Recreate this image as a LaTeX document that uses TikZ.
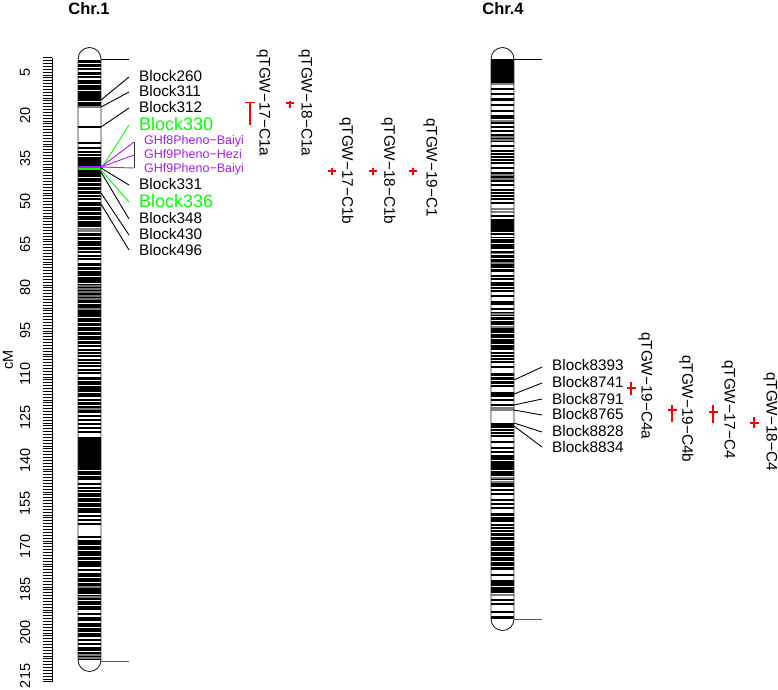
\documentclass[tikz,border=0pt]{standalone}
\usepackage{fontspec}
\setmainfont{Liberation Sans}
\definecolor{grn}{HTML}{00FF00}
\definecolor{prp}{HTML}{A020F0}
\definecolor{qred}{HTML}{FF0000}
\begin{document}
\begin{tikzpicture}[x=1pt,y=-1pt,
  lbl/.style={font=\fontsize{15.3}{18}\selectfont, inner sep=0pt, anchor=west, text depth=0pt},
  lblg/.style={font=\fontsize{18}{21}\selectfont, inner sep=0pt, anchor=west, text depth=0pt, text=grn},
  lblp/.style={font=\fontsize{12.5}{15}\selectfont, inner sep=0pt, anchor=west, text depth=0pt, text=prp},
  qlbl/.style={font=\fontsize{15.3}{18}\selectfont, inner sep=0pt, anchor=west, text depth=0pt, rotate=-90},
  axl/.style={font=\fontsize{14.5}{17}\selectfont, inner sep=0pt, rotate=90, text depth=0pt},
  ttl/.style={font=\fontsize{16.5}{19}\selectfont\bfseries, inner sep=0pt},
  conn/.style={line width=0.9pt},
  qtl/.style={draw=qred, line width=1.1pt},
  chrom/.style={draw=black!85, line width=0.9pt},
  bl/.style={black, line width=1.4pt},
  wl/.style={white, line width=0.9pt},
  gl/.style={black!50, line width=1.3pt},
]
\useasboundingbox (0,0) rectangle (778,689);

% ---------- axis ----------
\foreach \i in {0,...,217} \draw[line width=0.55pt] (43,{57.6+\i*2.876}) -- (52,{57.6+\i*2.876});
\draw[line width=0.6pt] (52,57.6) -- (52,{57.6+217*2.876});
\foreach \v in {5,20,...,215} \node[axl] (tk\v) at (25,{57.6+\v*2.876}) {\v};
\node[axl] (cm) at (8,360) {cM};

% ---------- titles ----------
\node[ttl] (t1) at (89,9) {Chr.1};
\node[ttl] (t4) at (503,9) {Chr.4};

% ---------- Chr.1 bands ----------
\begin{scope}
\clip (78,59) rectangle (101,660);
\fill[white] (78,59) rectangle (101,660);
\foreach \a/\b in {60/67, 72/78, 85/107, 157/167, 170/177, 183/200, 207/227, 233/253, 263/347, 377/397, 402/413, 437/480, 493/513, 540/567, 573/610, 623/637, 647/660}
  \fill[black] (78,\a) rectangle (101,\b);
\foreach \y in {286, 289, 292, 296, 299}
  \draw[black!55, line width=1.6pt] (78,\y) -- (101,\y);
\foreach \y in {63, 75, 90, 101, 186, 190, 194, 197, 211, 215, 220, 236, 240, 246, 250, 266, 270, 276, 283, 303, 317, 322, 326, 331, 335, 340, 344, 380, 385, 392, 405, 470, 475, 497, 502, 507, 545, 550, 556, 560, 577, 582, 594, 600, 605, 627, 632, 651}
  \draw[wl] (78,\y) -- (101,\y);
\foreach \y in {107, 229, 231, 309, 409, 587, 597, 655, 658}
  \draw[gl] (78,\y) -- (101,\y);
\foreach \y in {69, 81, 83, 127, 143, 148, 152, 155, 179, 181, 203, 205, 256, 259, 350, 353, 356, 360, 363, 366, 370, 373, 400, 416, 420, 424, 428, 432, 484, 488, 491, 516, 520, 524, 537, 570, 614, 618, 620, 640, 644}
  \draw[bl] (78,\y) -- (101,\y);
\draw[prp, line width=1.2pt] (78,167) -- (101,167);
\draw[grn, line width=1.2pt] (78,169) -- (101,169);
\end{scope}
\draw[chrom] (78,59) -- (78,660) .. controls (78,666.35) and (83.15,671.5) .. (89.5,671.5) .. controls (95.85,671.5) and (101,666.35) .. (101,660) -- (101,59) .. controls (101,52.65) and (95.85,47.5) .. (89.5,47.5) .. controls (83.15,47.5) and (78,52.65) .. (78,59) -- cycle;

% ---------- Chr.4 bands ----------
\begin{scope}
\clip (491,59) rectangle (514,619);
\fill[white] (491,59) rectangle (514,619);
\foreach \a/\b in {59/84, 115/124, 134/142, 172/182, 219/232, 237/249, 255/272, 282/292, 312/350, 373/387, 392/397, 423/428, 455/487, 513/522, 533/570, 580/593, 616/619}
  \fill[black] (491,\a) rectangle (514,\b);
\foreach \y in {119, 238, 243, 258, 262, 268, 286, 289, 316, 320, 325, 333, 338, 344, 376, 380, 384, 460, 470, 476, 480, 516, 536, 540, 546, 551, 556, 561, 566, 586}
  \draw[wl] (491,\y) -- (514,\y);
\foreach \y in {84, 121, 137, 140, 175, 179, 209, 212, 253, 263, 314, 327, 408, 410, 478, 482, 595}
  \draw[gl] (491,\y) -- (514,\y);
\foreach \y in {89, 94, 99, 100, 105, 111, 127, 131, 146, 151, 154, 157, 160, 163, 168, 185, 190, 193, 196, 199, 203, 216, 234, 252, 276, 279, 296, 302, 304, 309, 353, 356, 359, 362, 367, 400, 405, 430, 433, 436, 442, 448, 452, 490, 494, 500, 504, 508, 525, 528, 531, 575, 600, 604, 612}
  \draw[bl] (491,\y) -- (514,\y);
\end{scope}
\draw[chrom] (491,59) -- (491,619) .. controls (491,625.35) and (496.15,630.5) .. (502.5,630.5) .. controls (508.85,630.5) and (514,625.35) .. (514,619) -- (514,59) .. controls (514,52.65) and (508.85,47.5) .. (502.5,47.5) .. controls (496.15,47.5) and (491,52.65) .. (491,59) -- cycle;

% ---------- Chr.1 ends ----------
\coordinate (c1top) at (101,59); \coordinate (e1top) at (129,59);
\coordinate (c1bot) at (101,661); \coordinate (e1bot) at (129,661);
\draw[conn] (c1top) -- (e1top);
\draw[conn, black!65] (c1bot) -- (e1bot);

% ---------- Chr.1 labels ----------
\node[lbl] (b260) at (139,75.5) {Block260};
\node[lbl] (b311) at (139,91) {Block311};
\node[lbl] (b312) at (139,107) {Block312};
\node[lblg] (b330) at (139,124) {Block330};
\node[lblp] (g1) at (144,140) {GHf8Pheno−Baiyi};
\node[lblp] (g2) at (144,154) {GHf9Pheno−Hezi};
\node[lblp] (g3) at (144,168) {GHf9Pheno−Baiyi};
\node[lbl] (b331) at (139,184) {Block331};
\node[lblg] (b336) at (139,201) {Block336};
\node[lbl] (b348) at (139,218) {Block348};
\node[lbl] (b430) at (139,234) {Block430};
\node[lbl] (b496) at (139,250) {Block496};

\coordinate (c260) at (101,100); \coordinate (e260) at (129,77);
\coordinate (c311) at (101,107); \coordinate (e311) at (129,92);
\coordinate (c312) at (101,127); \coordinate (e312) at (129,108);
\coordinate (c330) at (101,169); \coordinate (e330) at (129,125);
\coordinate (cg) at (101,167);
\coordinate (eg1) at (134,142); \coordinate (eg2) at (134,155); \coordinate (eg3) at (134,168);
\coordinate (c331) at (101,168); \coordinate (e331) at (129,185);
\coordinate (c336) at (101,170); \coordinate (e336) at (129,202);
\coordinate (c348) at (101,172); \coordinate (e348) at (129,219);
\coordinate (c430) at (101,193); \coordinate (e430) at (129,235);
\coordinate (c496) at (101,204); \coordinate (e496) at (129,250);

\draw[conn] (c260) -- (e260);
\draw[conn] (c311) -- (e311);
\draw[conn] (c312) -- (e312);
\draw[conn, grn] (c330) -- (e330);
\draw[conn, prp] (cg) -- (eg1);
\draw[conn, prp] (cg) -- (eg2);
\draw[conn, prp] (cg) -- (eg3);
\draw[conn, black!80] (eg1) -- (eg3);
\draw[conn] (c331) -- (e331);
\draw[conn, grn] (c336) -- (e336);
\draw[conn] (c348) -- (e348);
\draw[conn] (c430) -- (e430);
\draw[conn] (c496) -- (e496);

% ---------- Chr.1 QTL ----------
\node[qlbl] (q17a) at (265,49) {qTGW−17−C1a};
\node[qlbl] (q18a) at (307,49) {qTGW−18−C1a};
\node[qlbl] (q17b) at (348,117) {qTGW−17−C1b};
\node[qlbl] (q18b) at (390,117) {qTGW−18−C1b};
\node[qlbl] (q19) at (432,118) {qTGW−19−C1};

\draw[qtl] (250,102.5) -- (250,125); \draw[qtl] (245,102.5) -- (255,102.5);
\draw[qtl] (290,100.5) -- (290,107.5); \draw[qtl] (286,103) -- (294,103);
\draw[qtl] (332,167.5) -- (332,174.5); \draw[qtl] (328,171) -- (336,171);
\draw[qtl] (373,167.5) -- (373,174.5); \draw[qtl] (369,171) -- (377,171);
\draw[qtl] (413,167.5) -- (413,174.5); \draw[qtl] (409,171) -- (417,171);

% ---------- Chr.4 ends ----------
\coordinate (c4top) at (514,59); \coordinate (e4top) at (542,59);
\coordinate (c4bot) at (514,619.5); \coordinate (e4bot) at (542,619.5);
\draw[conn] (c4top) -- (e4top);
\draw[conn, black!65] (c4bot) -- (e4bot);

% ---------- Chr.4 labels ----------
\node[lbl] (b8393) at (552,365) {Block8393};
\node[lbl] (b8741) at (552,382) {Block8741};
\node[lbl] (b8791) at (552,398.5) {Block8791};
\node[lbl] (b8765) at (552,414) {Block8765};
\node[lbl] (b8828) at (552,430.5) {Block8828};
\node[lbl] (b8834) at (552,447) {Block8834};

\coordinate (c8393) at (514,380); \coordinate (e8393) at (542,367);
\coordinate (c8741) at (514,394); \coordinate (e8741) at (542,383);
\coordinate (c8791) at (514,405); \coordinate (e8791) at (542,399);
\coordinate (c8765) at (514,410); \coordinate (e8765) at (542,415);
\coordinate (c8828) at (514,423); \coordinate (e8828) at (542,432);
\coordinate (c8834) at (514,426); \coordinate (e8834) at (542,447);
\draw[conn] (c8393) -- (e8393);
\draw[conn] (c8741) -- (e8741);
\draw[conn] (c8791) -- (e8791);
\draw[conn] (c8765) -- (e8765);
\draw[conn] (c8828) -- (e8828);
\draw[conn] (c8834) -- (e8834);

% ---------- Chr.4 QTL ----------
\node[qlbl] (q19a4) at (647,332) {qTGW−19−C4a};
\node[qlbl] (q19b4) at (688,355) {qTGW−19−C4b};
\node[qlbl] (q174) at (730,360) {qTGW−17−C4};
\node[qlbl] (q184) at (772,372) {qTGW−18−C4};

\draw[qtl] (631,382) -- (631,395); \draw[qtl] (626.5,388) -- (635.5,388);
\draw[qtl] (672,405) -- (672,422); \draw[qtl] (667.5,410) -- (676.5,410);
\draw[qtl] (713,405) -- (713,423); \draw[qtl] (708.5,412) -- (717.5,412);
\draw[qtl] (754,417) -- (754,428); \draw[qtl] (749.5,423) -- (758.5,423);
\end{tikzpicture}
\end{document}
